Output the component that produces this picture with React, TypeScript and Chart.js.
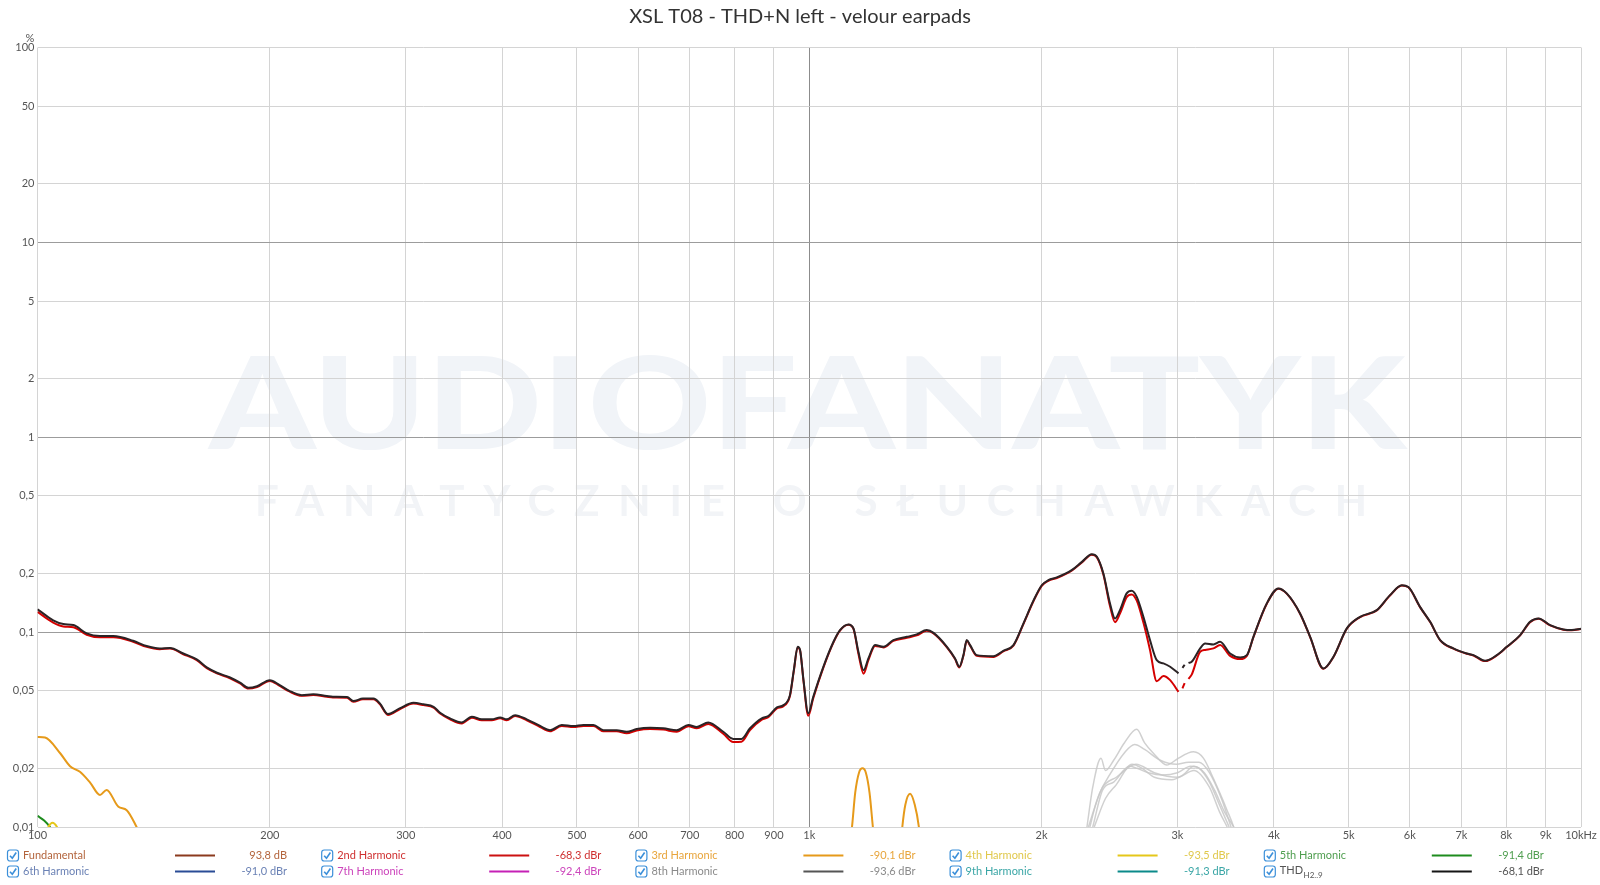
import React, { useEffect, useRef } from 'react';
import { Chart, registerables } from 'chart.js';

Chart.register(...registerables);

const FONT = 'Lato, "Noto Sans", sans-serif';
const TITLE = 'XSL T08 - THD+N left - velour earpads';
const Y_UNIT = '%';
const WATERMARK = 'AUDIOFANATYK';
const WATERMARK_SUB = 'FANATYCZNIE O SŁUCHAWKACH';

const X_TICKS = [100, 200, 300, 400, 500, 600, 700, 800, 900, 1000, 2000, 3000, 4000, 5000, 6000, 7000, 8000, 9000, 10000];
const X_TICK_LABELS = ['100', '200', '300', '400', '500', '600', '700', '800', '900', '1k', '2k', '3k', '4k', '5k', '6k', '7k', '8k', '9k', '10kHz'];
const Y_TICKS = [0.01, 0.02, 0.05, 0.1, 0.2, 0.5, 1, 2, 5, 10, 20, 50, 100];
const Y_TICK_LABELS = ['0,01', '0,02', '0,05', '0,1', '0,2', '0,5', '1', '2', '5', '10', '20', '50', '100'];

// Main curve frequencies (Hz) shared by THD and 2nd harmonic
const MAIN_FREQ = [
  100, 104.8, 108, 111.3, 115.8, 120.5, 125.4, 133, 138.5, 144, 148.5, 154.5, 160.8, 165.7, 170.8, 177.6, 183, 187.6, 192.5, 200,
  206, 212, 220, 227.7, 237, 241.4, 251.8, 256.6, 264, 272.5, 277.7, 284.5, 294.6, 307, 316.3, 326, 332.4, 342.4, 354.6, 365.4,
  376.3, 387.8, 397.6, 405.5, 415.7, 430.5, 448, 461.5, 477.9, 494.8, 509.8, 525.2, 541.1, 563, 580, 597.6, 622, 647, 673.4, 697.3,
  714.9, 739.9, 773.7, 797, 817, 838, 868, 885, 908, 926, 944, 955, 966, 973, 983, 997, 1012, 1043, 1075, 1096,
  1124, 1141, 1158, 1176, 1193, 1217, 1248, 1285, 1338, 1378, 1420, 1449, 1508, 1545, 1565, 1584, 1600, 1616, 1648, 1732,
  1784, 1839, 1895, 1952, 2001, 2041, 2093, 2188, 2256, 2323, 2359, 2405, 2453, 2490, 2527, 2578, 2617, 2657, 2710, 2764,
  2820, 2877, 2935, 3009, 3025, 3045, 3065, 3080, 3100, 3130, 3210, 3258, 3340, 3407, 3510, 3617, 3690, 3763, 3915, 4054,
  4156, 4325, 4457, 4637, 4778, 4972, 5173, 5437, 5656, 5859, 5975, 6186, 6376, 6570, 6834, 7112, 7255, 7513, 7778, 8013,
  8340, 8590, 8810, 9120, 9490, 9730, 10000,
];

const THD_VALUES = [
  0.131, 0.115, 0.110, 0.1087, 0.0985, 0.0954, 0.0954, 0.0903, 0.0848, 0.0825, 0.083, 0.0777, 0.0724, 0.0659, 0.0619, 0.0585, 0.055, 0.0518, 0.0528, 0.0567,
  0.0535, 0.050, 0.0475, 0.048, 0.047, 0.0466, 0.0464, 0.0443, 0.0456, 0.0456, 0.0431, 0.038, 0.0406, 0.0434, 0.0426, 0.0414, 0.0386, 0.0361, 0.0344, 0.0368,
  0.0357, 0.0357, 0.0365, 0.0357, 0.0375, 0.0357, 0.033, 0.0314, 0.0334, 0.033, 0.0334, 0.0334, 0.0314, 0.0314, 0.0308, 0.0318, 0.0323, 0.0321, 0.0314, 0.0334,
  0.0326, 0.0344, 0.0308, 0.0283, 0.0283, 0.0321, 0.0361, 0.0371, 0.0411, 0.0422, 0.0475, 0.0638, 0.0841, 0.081, 0.0567, 0.0383, 0.0466, 0.0664, 0.0892, 0.1024,
  0.1095, 0.1045, 0.0793, 0.0638, 0.0733, 0.0858, 0.0841, 0.091, 0.0946, 0.0974, 0.1024, 0.0991, 0.0841, 0.0733, 0.0664, 0.0762, 0.091, 0.0858, 0.0762, 0.0752,
  0.0802, 0.0858, 0.111, 0.145, 0.174, 0.1848, 0.1908, 0.208, 0.2294, 0.2512, 0.2435, 0.2, 0.1403, 0.1176, 0.1297, 0.158, 0.163, 0.1517, 0.1198, 0.091,
  0.0718, 0.0691, 0.0664, 0.0614, null, 0.0655, 0.068, null, 0.0695, 0.0704, 0.0825, 0.0875, 0.0865, 0.0892, 0.0777, 0.0742, 0.0762, 0.0946, 0.14, 0.1675,
  0.158, 0.1247, 0.0946, 0.0651, 0.0748, 0.1045, 0.1198, 0.1297, 0.1548, 0.174, 0.1705, 0.1348, 0.1129, 0.091, 0.0825, 0.0777, 0.0762, 0.0713, 0.0762, 0.0841,
  0.0965, 0.1129, 0.1176, 0.1086, 0.1032, 0.1024, 0.104,
];

const H2_VALUES = [
  0.127, 0.112, 0.107, 0.106, 0.097, 0.094, 0.094, 0.0893, 0.084, 0.0818, 0.0823, 0.077, 0.0718, 0.0653, 0.0614, 0.058, 0.0545, 0.0513, 0.0523, 0.0562,
  0.053, 0.0496, 0.0471, 0.0476, 0.0466, 0.0462, 0.046, 0.0439, 0.0452, 0.0452, 0.0427, 0.0376, 0.0402, 0.043, 0.0422, 0.041, 0.0382, 0.0357, 0.034, 0.0364,
  0.0353, 0.0353, 0.0361, 0.0353, 0.0371, 0.0353, 0.0326, 0.031, 0.033, 0.0326, 0.033, 0.033, 0.031, 0.031, 0.0303, 0.0313, 0.0318, 0.0316, 0.0308, 0.0329,
  0.0321, 0.0338, 0.0301, 0.0273, 0.0274, 0.0314, 0.0355, 0.0366, 0.0406, 0.0417, 0.047, 0.0632, 0.0835, 0.0804, 0.056, 0.0372, 0.0458, 0.0657, 0.0886, 0.1018,
  0.109, 0.1038, 0.0775, 0.0612, 0.0718, 0.085, 0.0835, 0.0902, 0.0935, 0.0962, 0.1015, 0.0984, 0.0835, 0.0727, 0.0658, 0.0756, 0.0903, 0.0852, 0.0756, 0.0746,
  0.0796, 0.0852, 0.1102, 0.144, 0.1728, 0.1835, 0.1895, 0.2066, 0.228, 0.2495, 0.2418, 0.1975, 0.136, 0.1125, 0.1245, 0.151, 0.156, 0.145, 0.112, 0.081,
  0.056, 0.0595, 0.0567, 0.0494, null, 0.0515, 0.0548, null, 0.0575, 0.0605, 0.0793, 0.081, 0.0825, 0.0858, 0.0755, 0.0727, 0.0755, 0.0942, 0.1395, 0.167,
  0.1575, 0.1243, 0.0943, 0.0648, 0.0745, 0.1041, 0.1194, 0.1293, 0.1543, 0.1735, 0.17, 0.1344, 0.1126, 0.0907, 0.0822, 0.0774, 0.0759, 0.071, 0.0759, 0.0838,
  0.0962, 0.1125, 0.1172, 0.1082, 0.1029, 0.1021, 0.1037,
];

const H3_FREQ = [100, 102.3, 107, 110.2, 113.5, 117, 120.5, 122.9, 127.3, 130.5, 134.4, 137, 140, 145,
  1110, 1136, 1147, 1160, 1172, 1184, 1197, 1209, 1230, 1260, 1300, 1320, 1332, 1351, 1370, 1387, 1410];
const H3_VALUES = [0.029, 0.0288, 0.0239, 0.0205, 0.0192, 0.0169, 0.0146, 0.0155, 0.0127, 0.0122, 0.01, 0.0085, 0.007, null,
  0.005, 0.01, 0.015, 0.019, 0.02, 0.019, 0.015, 0.01, 0.005, null, 0.005, 0.01, 0.013, 0.0148, 0.013, 0.01, 0.005];

const H4_FREQ = [102.5, 103.3, 104.6, 106, 107];
const H4_VALUES = [0.0092, 0.01, 0.0105, 0.01, 0.0092];

const H5_FREQ = [100, 102, 103.8, 105.5];
const H5_VALUES = [0.0114, 0.0108, 0.01, 0.009];

// faint grey curves around 2.3k - 3.5k
const GREY1_FREQ = [2290, 2330, 2388, 2420, 2480, 2560, 2657, 2720, 2790, 2906, 2992, 3100, 3148, 3243, 3340, 3478, 3547, 3600];
const GREY1_VALUES = [0.01, 0.016, 0.0225, 0.0195, 0.022, 0.027, 0.0317, 0.027, 0.024, 0.0208, 0.0222, 0.024, 0.0243, 0.0225, 0.0177, 0.0122, 0.01, 0.008];
const GREY2_FREQ = [2300, 2380, 2450, 2560, 2640, 2720, 2850, 2990, 3100, 3200, 3300, 3420, 3520];
const GREY2_VALUES = [0.01, 0.015, 0.0185, 0.024, 0.0265, 0.025, 0.022, 0.021, 0.0215, 0.0215, 0.019, 0.014, 0.01];
const GREY3_FREQ = [2330, 2400, 2480, 2600, 2660, 2750, 2870, 3000, 3120, 3200, 3300, 3400, 3500];
const GREY3_VALUES = [0.01, 0.0155, 0.017, 0.0205, 0.02, 0.019, 0.0185, 0.019, 0.0205, 0.02, 0.017, 0.013, 0.01];
const GREY4_FREQ = [2340, 2420, 2500, 2620, 2700, 2800, 2950, 3050, 3150, 3250, 3350, 3450, 3550];
const GREY4_VALUES = [0.01, 0.014, 0.0165, 0.021, 0.02, 0.018, 0.0175, 0.0185, 0.0205, 0.019, 0.0155, 0.012, 0.01];
const GREY5_FREQ = [2310, 2350, 2400, 2500, 2650, 2800, 3000, 3150, 3300, 3400, 3480];
const GREY5_VALUES = [0.01, 0.013, 0.016, 0.018, 0.021, 0.019, 0.018, 0.0195, 0.016, 0.012, 0.01];

const LEGEND_LABELS = ['Fundamental', '2nd Harmonic', '3rd Harmonic', '4th Harmonic', '5th Harmonic', '6th Harmonic', '7th Harmonic', '8th Harmonic', '9th Harmonic', 'THD'];
const LEGEND_VALUES = ['93,8 dB', '-68,3 dBr', '-90,1 dBr', '-93,5 dBr', '-91,4 dBr', '-91,0 dBr', '-92,4 dBr', '-93,6 dBr', '-91,3 dBr', '-68,1 dBr'];
const LEGEND_TEXT_COLORS = ['#b3643c', '#cf3030', '#e8a53c', '#e0c84c', '#4f9e4f', '#6b82b5', '#cc44bb', '#8a8a8a', '#3aa6a6', '#555555'];
const LEGEND_LINE_COLORS = ['#8b3a1e', '#cc1111', '#e69a1a', '#e5c71a', '#1e8c1e', '#2a4c96', '#c520b5', '#555555', '#0b8a8a', '#151515'];

const pts = (fs: number[], vs: (number | null)[]) => fs.map((f, i) => ({ x: f, y: vs[i] }));

export default function App() {
  const ref = useRef<HTMLCanvasElement | null>(null);

  useEffect(() => {
    document.body.style.margin = '0';
    const canvas = ref.current;
    if (!canvas) return;

    const decor = {
      id: 'decor',
      beforeDraw(chart: any) {
        const ctx = chart.ctx;
        ctx.save();
        // watermark
        ctx.fillStyle = '#f1f4f8';
        ctx.font = `900 128px ${FONT}`;
        ctx.textBaseline = 'alphabetic';
        ctx.textAlign = 'left';
        const w = ctx.measureText(WATERMARK).width;
        ctx.save();
        ctx.translate(209, 449);
        ctx.scale(1197 / w, 1);
        ctx.fillText(WATERMARK, 0, 0);
        ctx.restore();
        ctx.fillStyle = '#f2f4f7';
        ctx.font = `700 42px ${FONT}`;
        const n = WATERMARK_SUB.length;
        const plain = ctx.measureText(WATERMARK_SUB).width;
        const sp = (1112 - plain) / (n - 1);
        (ctx as any).letterSpacing = `${sp}px`;
        ctx.fillText(WATERMARK_SUB, 255, 516);
        (ctx as any).letterSpacing = '0px';
        ctx.restore();
        // title
        ctx.save();
        ctx.fillStyle = '#333333';
        ctx.font = `20px ${FONT}`;
        ctx.textAlign = 'center';
        ctx.textBaseline = 'middle';
        ctx.fillText(TITLE, 800, 17);
        ctx.font = `11px ${FONT}`;
        ctx.fillStyle = '#555555';
        ctx.fillText(Y_UNIT, 30, 38);
        ctx.restore();
      },
      afterDraw(chart: any) {
        const ctx = chart.ctx;
        ctx.save();
        ctx.textBaseline = 'middle';
        for (let i = 0; i < LEGEND_LABELS.length; i++) {
          const row = i < 5 ? 0 : 1;
          const col = i % 5;
          const bx = col * 314.2;
          const y = row === 0 ? 855.5 : 871.5;
          // checkbox
          ctx.fillStyle = '#ffffff';
          ctx.strokeStyle = '#3b8fd9';
          ctx.lineWidth = 1.2;
          ctx.beginPath();
          (ctx as any).roundRect(bx + 7.5, y - 5.5, 11, 11, 2.5);
          ctx.fill();
          ctx.stroke();
          ctx.lineWidth = 1.6;
          ctx.beginPath();
          ctx.moveTo(bx + 10, y + 0.2);
          ctx.lineTo(bx + 12.3, y + 2.8);
          ctx.lineTo(bx + 16.2, y - 3);
          ctx.stroke();
          // label
          ctx.fillStyle = LEGEND_TEXT_COLORS[i];
          ctx.textAlign = 'left';
          ctx.font = `11px ${FONT}`;
          if (LEGEND_LABELS[i] === 'THD') {
            ctx.fillText('THD', bx + 23, y - 1.5);
            const tw = ctx.measureText('THD').width;
            ctx.font = `8px ${FONT}`;
            ctx.fillText('H2..9', bx + 23 + tw + 0.5, y + 4);
            ctx.font = `11px ${FONT}`;
          } else {
            ctx.fillText(LEGEND_LABELS[i], bx + 23, y);
          }
          // line sample
          ctx.strokeStyle = LEGEND_LINE_COLORS[i];
          ctx.lineWidth = 2;
          ctx.beginPath();
          ctx.moveTo(bx + 175, y);
          ctx.lineTo(bx + 215, y);
          ctx.stroke();
          // value
          ctx.textAlign = 'right';
          ctx.fillText(LEGEND_VALUES[i], bx + 287, y);
        }
        ctx.restore();
      },
    };

    const grey = (fs: number[], vs: number[]) => ({
      data: pts(fs, vs),
      borderColor: 'rgba(200,200,200,0.85)',
      borderWidth: 1.5,
      order: 10,
    });

    const chart = new Chart(canvas, {
      type: 'line',
      data: {
        datasets: [
          { data: pts(MAIN_FREQ, THD_VALUES), borderColor: '#2b2325', borderWidth: 2, order: 0 },
          { data: pts(MAIN_FREQ, H2_VALUES), borderColor: '#d40000', borderWidth: 2, order: 1 },
          { data: pts(H3_FREQ, H3_VALUES), borderColor: '#e69a1a', borderWidth: 2, order: 2 },
          { data: pts(H4_FREQ, H4_VALUES), borderColor: '#e5c71a', borderWidth: 2, order: 3 },
          { data: pts(H5_FREQ, H5_VALUES), borderColor: '#1e8c1e', borderWidth: 2, order: 4 },
          grey(GREY1_FREQ, GREY1_VALUES),
          grey(GREY2_FREQ, GREY2_VALUES),
          grey(GREY3_FREQ, GREY3_VALUES),
          grey(GREY4_FREQ, GREY4_VALUES),
          grey(GREY5_FREQ, GREY5_VALUES),
        ] as any,
      },
      options: {
        animation: false,
        responsive: false,
        maintainAspectRatio: false,
        spanGaps: false,
        layout: { padding: { top: 47.5, right: 19, left: 0, bottom: 0 } },
        elements: {
          point: { radius: 0, hoverRadius: 0 },
          line: { cubicInterpolationMode: 'monotone', fill: false },
        },
        plugins: {
          legend: { display: false },
          title: { display: false },
          tooltip: { enabled: false },
        },
        scales: {
          x: {
            type: 'logarithmic',
            min: 100,
            max: 10000,
            afterBuildTicks: (s: any) => { s.ticks = X_TICKS.map((v) => ({ value: v })); },
            afterFit: (s: any) => { s.height = 58; },
            ticks: {
              autoSkip: false,
              maxRotation: 0,
              minRotation: 0,
              padding: 2,
              color: '#555555',
              font: { family: FONT, size: 11 },
              callback: (v: any) => X_TICK_LABELS[X_TICKS.indexOf(Number(v))],
            },
            grid: {
              color: (c: any) => (c.tick && c.tick.value === 1000 ? '#8c8c8c' : '#d4d4d4'),
              lineWidth: 1,
              drawTicks: false,
            },
            border: { display: false },
          },
          y: {
            type: 'logarithmic',
            min: 0.01,
            max: 100,
            afterBuildTicks: (s: any) => { s.ticks = Y_TICKS.map((v) => ({ value: v })); },
            afterFit: (s: any) => { s.width = 37.5; },
            ticks: {
              autoSkip: false,
              padding: 3,
              color: '#555555',
              font: { family: FONT, size: 11 },
              callback: (v: any) => Y_TICK_LABELS[Y_TICKS.indexOf(Number(v))],
            },
            grid: {
              color: (c: any) => (c.tick && [0.1, 1, 10].includes(c.tick.value) ? '#9c9c9c' : '#d4d4d4'),
              lineWidth: 1,
              drawTicks: false,
            },
            border: { display: false },
          },
        },
      } as any,
      plugins: [decor],
    });

    return () => chart.destroy();
  }, []);

  return (
    <div style={{ width: 1600, height: 885, background: '#ffffff' }}>
      <canvas ref={ref} width={1600} height={885} style={{ display: 'block' }} />
    </div>
  );
}
